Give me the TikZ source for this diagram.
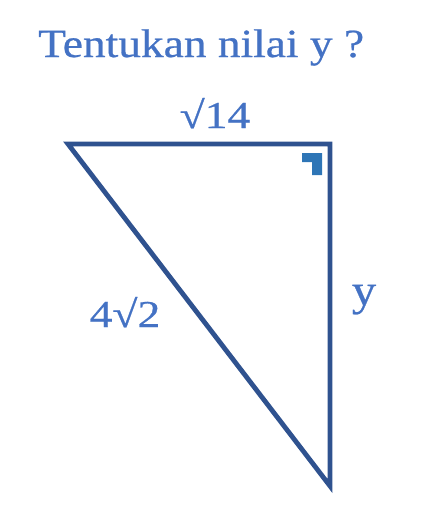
\documentclass[tikz,border=0pt]{standalone}
\usepackage{fontspec}
\setmainfont[FakeBold=0.6]{Liberation Serif}
\definecolor{txtblue}{HTML}{4472C4}
\definecolor{lineblue}{HTML}{2F528F}
\definecolor{markblue}{HTML}{2E75B6}
\begin{document}
\begin{tikzpicture}[x=1pt,y=-1pt,
  lbl/.style={text=txtblue,inner sep=0pt,anchor=base,font=\fontsize{38}{40}\selectfont},
  edge/.style={draw=lineblue,line width=4.8pt,line join=miter}]
\useasboundingbox (0,0) rectangle (426,531);
\node[lbl,anchor=base west,font=\fontsize{40}{44}\selectfont] (title) at (38,57) {\scalebox{1.135}[1]{Tentukan nilai y ?}};
\coordinate (A) at (68,144);
\coordinate (B) at (330,144);
\coordinate (C) at (330,486);
\draw[edge] (A) -- (B) -- (C) -- cycle;
\fill[markblue] (302,153) -- (322,153) -- (322,175) -- (312,175) -- (312,162) -- (302,162) -- cycle;
\node[lbl] (top) at (215,128) {\scalebox{1.2}[1]{√14}};
\node[lbl] (hyp) at (125,327) {\scalebox{1.2}[1]{4√2}};
\node[lbl,font=\fontsize{44}{46}\selectfont] (side) at (364,305) {\scalebox{1.1}[1]{y}};
\end{tikzpicture}
\end{document}
